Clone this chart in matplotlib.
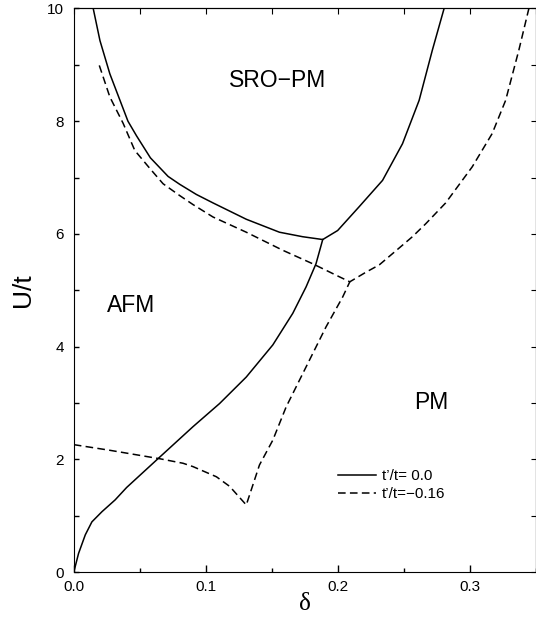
import matplotlib
matplotlib.use('Agg')
import matplotlib.pyplot as plt
from matplotlib.ticker import MultipleLocator, FormatStrFormatter

plt.rcParams['font.family'] = ['Liberation Sans', 'DejaVu Sans']

# t'/t = 0.0 (solid)
solid_top_x = [0.0147, 0.0198, 0.0273, 0.041, 0.0475, 0.058, 0.0714, 0.0802, 0.0928, 0.1054, 0.1306,
               0.1557, 0.1733, 0.1885,
               0.1998, 0.216, 0.2338, 0.2489, 0.2615, 0.2715, 0.2804]
solid_top_y = [10.0, 9.43, 8.84, 8.0, 7.74, 7.35, 7.02, 6.88, 6.70, 6.55, 6.26,
               6.03, 5.95, 5.90,
               6.06, 6.48, 6.95, 7.60, 8.37, 9.26, 10.0]
solid_low_x = [0.0, 0.0036, 0.0087, 0.0137, 0.0213, 0.0313, 0.040, 0.0651, 0.0903, 0.1104, 0.1306,
               0.1507, 0.1658, 0.1759, 0.1834, 0.1885]
solid_low_y = [0.0, 0.33, 0.66, 0.89, 1.07, 1.28, 1.50, 2.04, 2.58, 2.99, 3.46,
               4.03, 4.59, 5.06, 5.47, 5.90]

# t'/t = -0.16 (dashed)
dash_top_x = [0.0193, 0.0273, 0.0374, 0.0462, 0.058, 0.0676, 0.0802, 0.0903, 0.1054, 0.1306, 0.1582,
              0.1809, 0.201, 0.209,
              0.2212, 0.2313, 0.2464, 0.2564, 0.2665, 0.2816, 0.3017, 0.3168, 0.327, 0.337, 0.3446]
dash_top_y = [8.99, 8.43, 7.96, 7.48, 7.15, 6.89, 6.68, 6.52, 6.30, 6.03, 5.71,
              5.47, 5.24, 5.15,
              5.32, 5.45, 5.75, 5.95, 6.18, 6.55, 7.19, 7.78, 8.37, 9.26, 10.0]
dash_low_x = [0.0, 0.0273, 0.0651, 0.0827, 0.0903, 0.108, 0.118, 0.1306,
              0.1406, 0.1507, 0.1608, 0.1708, 0.181, 0.191, 0.2036, 0.209]
dash_low_y = [2.26, 2.16, 2.01, 1.93, 1.87, 1.69, 1.52, 1.19,
              1.90, 2.34, 2.93, 3.40, 3.88, 4.35, 4.88, 5.15]

fig = plt.figure(figsize=(5.36, 6.2), dpi=100)
ax = fig.add_axes([0.1377, 0.0774, 0.8623, 0.9089])

lw = 1.1
ax.plot(solid_top_x, solid_top_y, color='black', lw=lw, label="t\u2019/t= 0.0")
ax.plot(solid_low_x, solid_low_y, color='black', lw=lw)
ax.plot(dash_top_x, dash_top_y, color='black', lw=lw, dashes=(5, 2.8), label="t\u2019/t=\u22120.16")
ax.plot(dash_low_x, dash_low_y, color='black', lw=lw, dashes=(5, 2.8))

ax.set_xlim(0, 0.35)
ax.set_ylim(0, 10)

ax.text(0.154, 8.72, 'SRO\u2212PM', fontsize=16.5, ha='center', va='center')
ax.text(0.043, 4.73, 'AFM', fontsize=16.5, ha='center', va='center')
ax.text(0.271, 3.01, 'PM', fontsize=16.5, ha='center', va='center')

ax.xaxis.set_major_locator(MultipleLocator(0.1))
ax.xaxis.set_minor_locator(MultipleLocator(0.05))
ax.xaxis.set_major_formatter(FormatStrFormatter('%.1f'))
ax.yaxis.set_major_locator(MultipleLocator(2))
ax.yaxis.set_minor_locator(MultipleLocator(1))
ax.tick_params(which='both', direction='in', top=False, right=False, labelsize=11, width=1)
ax.tick_params(axis='x', which='major', length=4.7, pad=6)
ax.tick_params(axis='x', which='minor', length=3)
ax.tick_params(axis='y', which='both', length=3.6, pad=7)

top = ax.secondary_xaxis('top')
top.xaxis.set_major_locator(MultipleLocator(0.05))
top.tick_params(direction='in', length=4.3, labeltop=False)
right = ax.secondary_yaxis('right')
right.yaxis.set_major_locator(MultipleLocator(1))
right.tick_params(direction='in', length=3.6, labelright=False)

ax.set_xlabel('\u03b4', fontsize=18, family=['Liberation Serif', 'DejaVu Serif'], labelpad=-1)
ax.set_ylabel('U/t', fontsize=19, labelpad=9)

ax.legend(loc='upper left', bbox_to_anchor=(0.5716, 0.182), frameon=False, fontsize=11,
          handlelength=2.5, handletextpad=0.35, borderpad=0, borderaxespad=0, labelspacing=0.25)

fig.savefig('out.png', dpi=100)
